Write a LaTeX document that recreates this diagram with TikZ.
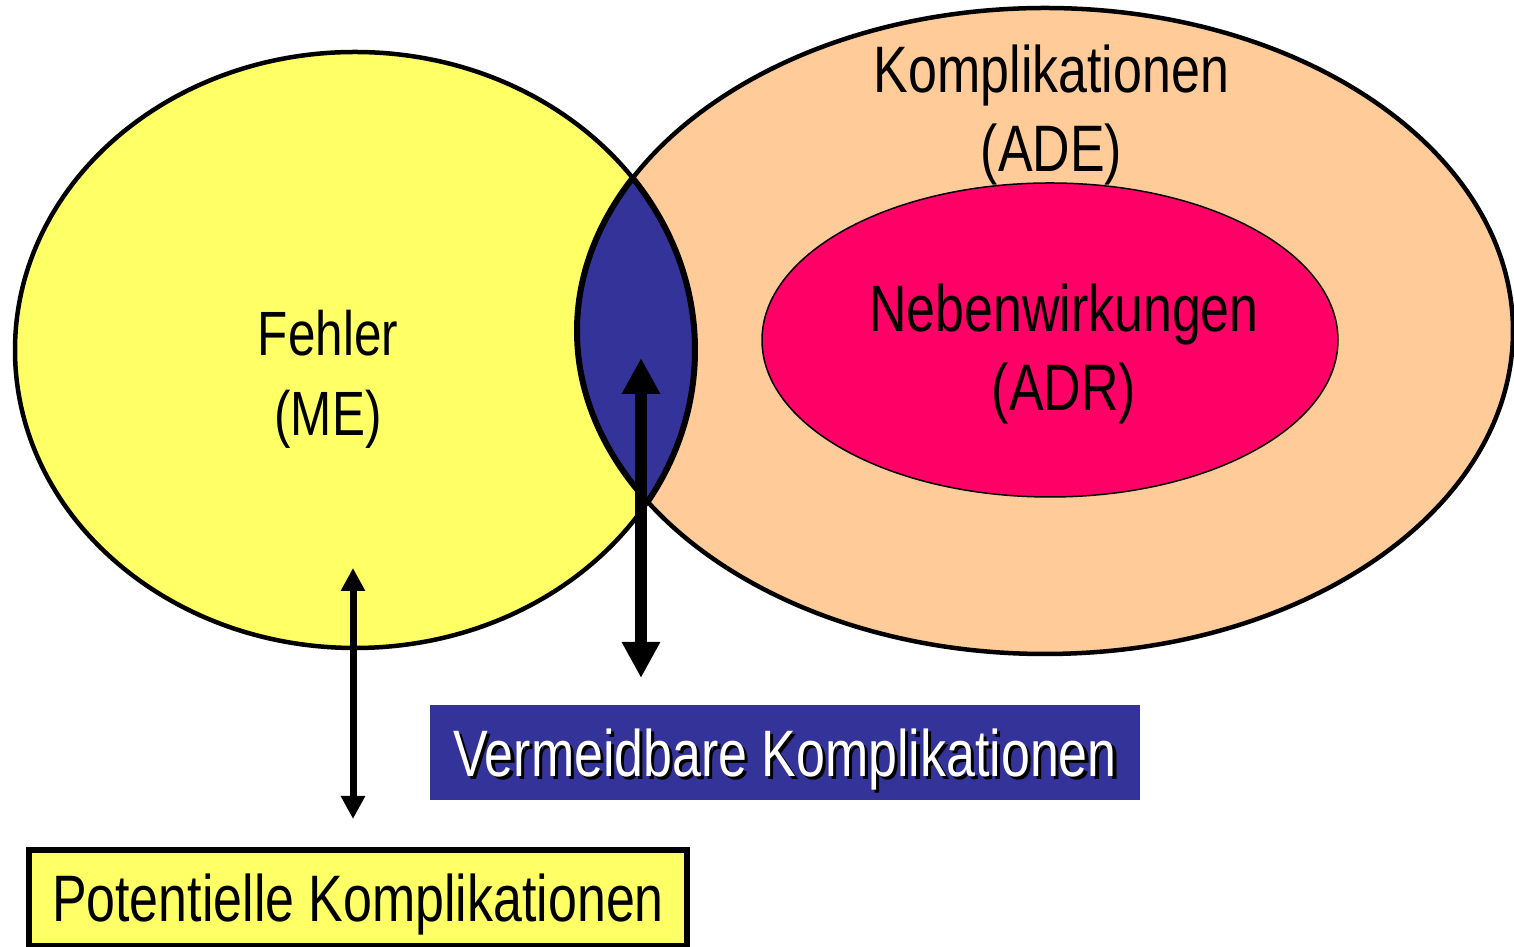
\documentclass[tikz,border=0pt]{standalone}
\usepackage{fontspec}
\setmainfont{Liberation Sans}[FakeStretch=0.79]
\usetikzlibrary{arrows.meta}
\definecolor{fehlerfill}{HTML}{FFFF66}
\definecolor{adefill}{HTML}{FFCC99}
\definecolor{adrfill}{HTML}{FF0066}
\definecolor{lensfill}{HTML}{333399}
\newcommand{\shadowtext}[1]{\makebox[0pt][l]{\hspace{0.9pt}\raisebox{-0.9pt}{\color{black}#1}}{\color{white}#1}}

\begin{document}
\begin{tikzpicture}[
  outline/.style={line width=0.045cm, draw=black},
  lensline/.style={line width=0.06cm, draw=black},
  bigtext/.style={align=center, font=\fontsize{18.7}{22.2}\selectfont},
  smalltext/.style={align=center, font=\fontsize{17.8}{22.8}\selectfont},
  vbox/.style={fill=lensfill, inner sep=0pt, minimum width=7.1cm,
               minimum height=0.95cm, text depth=0pt,
               font=\fontsize{18.7}{22.2}\selectfont},
  pbox/.style={fill=fehlerfill, draw, line width=0.06cm, inner sep=0pt,
               minimum width=6.58cm, minimum height=0.96cm, text depth=0pt,
               font=\fontsize{18.7}{22.2}\selectfont},
  thinarrow/.style={line width=0.07cm,
                    {Triangle[width=0.23cm,length=0.23cm]}-{Triangle[width=0.23cm,length=0.23cm]}},
  thickarrow/.style={line width=0.12cm,
                     {Triangle[width=0.36cm,length=0.36cm]}-{Triangle[width=0.36cm,length=0.36cm]}},
]
\useasboundingbox (0,0) rectangle (15.14,9.47);

\coordinate (me) at (3.55,5.97);
\coordinate (ade) at (10.45,6.16);
\coordinate (adr) at (10.50,6.07);

% ellipses
\fill[adefill] (ade) ellipse [x radius=4.68, y radius=3.23];
\fill[fehlerfill] (me) ellipse [x radius=3.40, y radius=2.98];
\begin{scope}
  \clip (me) ellipse [x radius=3.40, y radius=2.98];
  \fill[lensfill] (ade) ellipse [x radius=4.68, y radius=3.23];
  \draw[lensline] (ade) ellipse [x radius=4.68, y radius=3.23];
\end{scope}
\begin{scope}
  \clip (ade) ellipse [x radius=4.68, y radius=3.23];
  \draw[lensline] (me) ellipse [x radius=3.40, y radius=2.98];
\end{scope}
\draw[outline] (ade) ellipse [x radius=4.68, y radius=3.23];
\draw[outline] (me) ellipse [x radius=3.40, y radius=2.98];
\filldraw[fill=adrfill, draw=black, line width=0.015cm] (adr) ellipse [x radius=2.88, y radius=1.57];

% labels
\node[bigtext] (ade-text) at (10.515,8.32) {Komplikationen\\(ADE)};
\node[bigtext] (adr-text) at (10.64,5.93) {Nebenwirkungen\\(ADR)};
\node[smalltext] (me-text) at (3.28,5.675) {Fehler\\(ME)};

% boxes
\node[vbox] (vermeid) at (7.85,1.945) {\shadowtext{Vermeidbare Komplikationen}};
\node[pbox] (pot) at (3.58,0.49) {Potentielle Komplikationen};

% arrows
\coordinate (me-tip) at (3.53,3.79);
\coordinate (pot-tip) at (3.53,1.28);
\coordinate (lens-tip) at (6.41,5.89);
\coordinate (vermeid-tip) at (6.41,2.69);
\draw[thinarrow] (me-tip) -- (pot-tip);
\draw[thickarrow] (lens-tip) -- (vermeid-tip);

\end{tikzpicture}
\end{document}
